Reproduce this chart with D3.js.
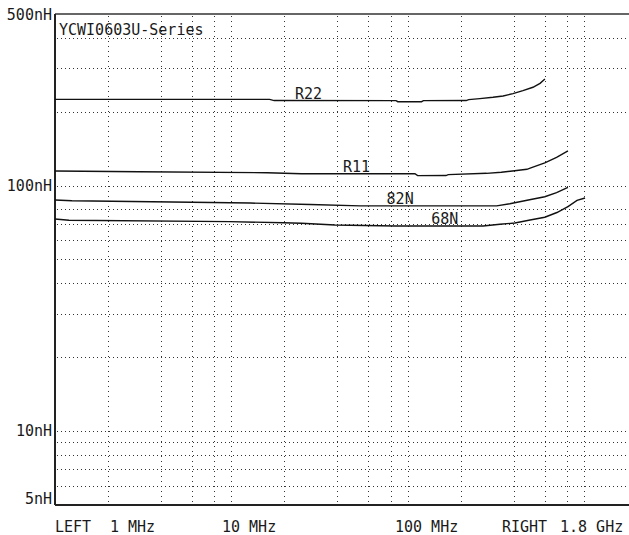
<!DOCTYPE html>
<html>
<head>
<meta charset="utf-8">
<script src="https://cdn.jsdelivr.net/npm/d3@7"></script>
<style>
  html, body { margin: 0; padding: 0; background: #ffffff; }
  svg { display: block; }
  text { font-family: "DejaVu Sans Mono", monospace; font-size: 15px; fill: #1a1a1a; }
</style>
</head>
<body>
<svg id="chart" width="629" height="535"></svg>
<script>
// ---------- data ----------
const title = "YCWI0603U-Series";
const freqGrid = [2, 4, 6, 8, 10, 20, 40, 60, 80, 100, 200, 400, 600, 800, 1000];      // MHz
const indGrid = [400, 300, 200, 100, 80, 70, 60, 50, 40, 30, 20, 10, 9, 8, 7, 6];       // nH
const yTickValues = [500, 100, 10, 5];
const yTickLabels = ["500nH", "100nH", "10nH", "5nH"];
const bottomLabels = ["LEFT", "1 MHz", "10 MHz", "100 MHz", "RIGHT", "1.8 GHz"];

const seriesNames = ["R22", "R11", "82N", "68N"];
const r22Freq = [1, 16.5, 17.5, 86, 88, 120, 123, 215, 222, 257, 305, 348, 396, 451, 514, 564, 601];
const r22Val  = [224.6, 224.4, 222, 221.8, 219.7, 219.7, 221.8, 222, 224, 226, 228.9, 231.8, 236.8, 243.6, 251.5, 261, 271.7];
const r11Freq = [1, 3, 16, 25, 110, 114, 165, 170, 280, 340, 405, 475, 500, 600, 700, 812];
const r11Val  = [114.7, 113.8, 112.8, 111.8, 111.8, 109.8, 109.9, 110.8, 112.2, 113.4, 115, 116.5, 118, 123.8, 130.3, 138.6];
const n82Freq = [1, 1.25, 4.6, 12.8, 28, 54, 320, 380, 500, 600, 700, 812];
const n82Val  = [87.4, 86.8, 85.8, 84.9, 83.7, 82.7, 82.7, 84.3, 87.8, 90.1, 93.6, 98.4];
const n68Freq = [1, 1.2, 9.8, 19.7, 25, 38.7, 85, 268, 334, 406, 495, 600, 703, 812, 914, 1015];
const n68Val  = [73.1, 72.3, 71.3, 70.6, 70.2, 69.1, 68.5, 68.5, 69.6, 70.4, 72.4, 74.3, 77.7, 82.1, 87, 89];
const labelFreq = [23, 43, 76, 136];   // where each curve label sits (MHz)

(function () {
// ---------- layout ----------
const svg = d3.select("#chart");
const pLeft = 55, pTop = 14, pBottom = 505;
const decade = 176.3;
const x = d3.scaleLog().domain([1, 1800]).range([pLeft, pLeft + decade * Math.log10(1800)]);
const y = d3.scaleLog().domain([5, 500]).range([pBottom, pTop]);

const series = [
  { name: seriesNames[0], f: r22Freq, v: r22Val },
  { name: seriesNames[1], f: r11Freq, v: r11Val },
  { name: seriesNames[2], f: n82Freq, v: n82Val },
  { name: seriesNames[3], f: n68Freq, v: n68Val }
];

// ---------- grid ----------
const grid = svg.append("g");
grid.selectAll("line.h").data(indGrid).enter().append("line")
  .attr("x1", pLeft + 2).attr("x2", 629)
  .attr("y1", d => Math.round(y(d)) + 0.5).attr("y2", d => Math.round(y(d)) + 0.5)
  .attr("stroke", "#333").attr("stroke-width", 1).attr("stroke-dasharray", "1,3");
grid.selectAll("line.v").data(freqGrid).enter().append("line")
  .attr("x1", d => Math.round(x(d)) + 0.5).attr("x2", d => Math.round(x(d)) + 0.5)
  .attr("y1", pTop + 2).attr("y2", pBottom)
  .attr("stroke", "#333").attr("stroke-width", 1).attr("stroke-dasharray", "1,4");

// ---------- frame ----------
svg.append("line").attr("x1", pLeft).attr("x2", 629).attr("y1", pTop).attr("y2", pTop)
  .attr("stroke", "#333").attr("stroke-width", 1.5);
svg.append("line").attr("x1", pLeft).attr("x2", 629).attr("y1", pBottom).attr("y2", pBottom)
  .attr("stroke", "#222").attr("stroke-width", 2);
svg.append("line").attr("x1", pLeft).attr("x2", pLeft).attr("y1", pTop).attr("y2", pBottom)
  .attr("stroke", "#222").attr("stroke-width", 2);

// ---------- curves ----------
const line = d3.line().x(d => x(d[0])).y(d => y(d[1]));
svg.selectAll("path.curve").data(series).enter().append("path")
  .attr("d", s => line(s.f.map((f, i) => [f, s.v[i]])))
  .attr("fill", "none").attr("stroke", "#111").attr("stroke-width", 1.4);

function valueAt(s, f) {
  for (let i = 1; i < s.f.length; i++) {
    if (f <= s.f[i]) {
      const t = (Math.log(f) - Math.log(s.f[i - 1])) / (Math.log(s.f[i]) - Math.log(s.f[i - 1]));
      return Math.exp(Math.log(s.v[i - 1]) + t * (Math.log(s.v[i]) - Math.log(s.v[i - 1])));
    }
  }
  return s.v[s.v.length - 1];
}
svg.selectAll("text.clabel").data(series).enter().append("text")
  .attr("x", (s, i) => x(labelFreq[i]))
  .attr("y", (s, i) => y(valueAt(s, labelFreq[i])) - 2)
  .text(s => s.name);

// ---------- texts ----------
svg.append("text").attr("x", 59).attr("y", 35).text(title);

svg.selectAll("text.ylab").data(yTickValues).enter().append("text")
  .attr("x", 52).attr("text-anchor", "end")
  .attr("y", (d, i) => i === 0 ? y(d) + 6 : (i === 3 ? y(d) - 1 : y(d) + 5))
  .text((d, i) => yTickLabels[i]);

const bottomX = [55, 110, 222, 395, 502, 560];
svg.selectAll("text.blab").data(bottomLabels).enter().append("text")
  .attr("x", (d, i) => bottomX[i]).attr("y", 532)
  .text(d => d);
})();
</script>
</body>
</html>
